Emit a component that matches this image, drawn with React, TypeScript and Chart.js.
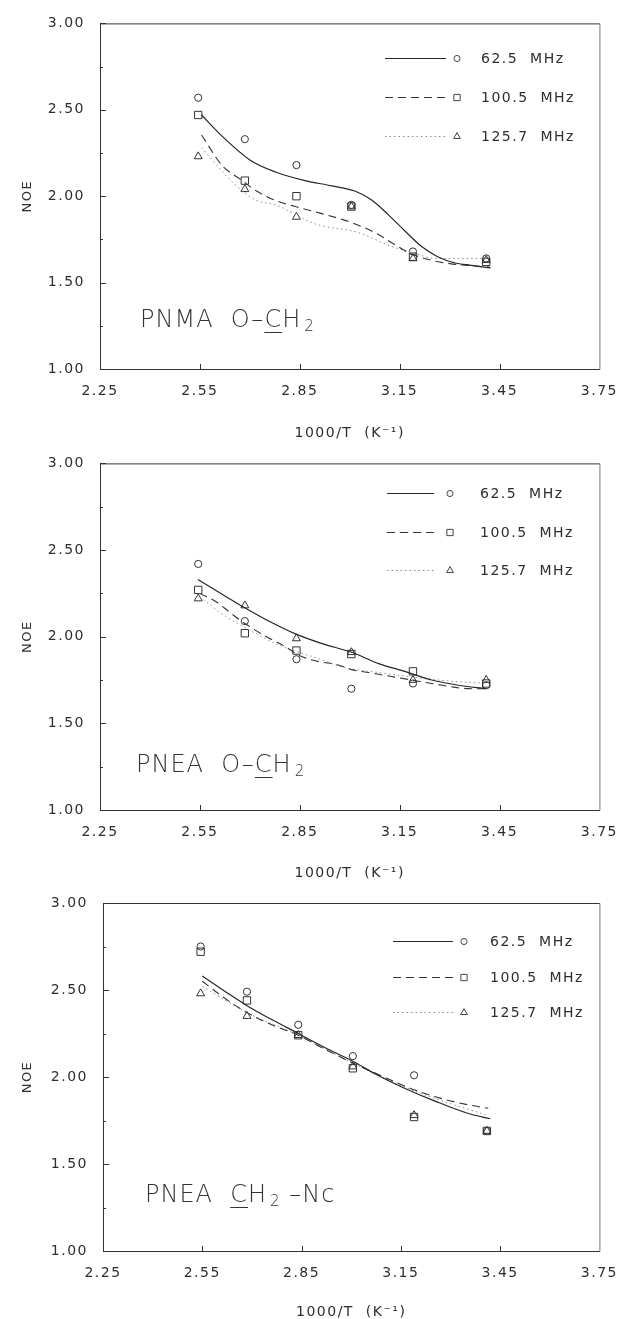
import React, { useEffect, useRef } from 'react';
import { Chart, registerables } from 'chart.js';

Chart.register(...registerables);

// ---------------- data ----------------
const tempX = [2.545, 2.685, 2.84, 3.005, 3.19, 3.41];
const xTickValues = [2.25, 2.55, 2.85, 3.15, 3.45, 3.75];
const yTickValues = [1.0, 1.5, 2.0, 2.5, 3.0];
const yMinorTicks = [1.25, 1.75, 2.25, 2.75];
const seriesLabels = ['62.5  MHz', '100.5  MHz', '125.7  MHz'];
const xTitle = '1000/T  (K\u207B\u00B9)';
const yTitle = 'NOE';

// Panel 1: PNMA O-CH2
const p1Noe625 = [2.57, 2.33, 2.18, 1.95, 1.68, 1.64];
const p1Noe1005 = [2.47, 2.09, 2.0, 1.94, 1.65, 1.62];
const p1Noe1257 = [2.23, 2.04, 1.88, 1.94, 1.64, 1.63];
const p1Fit625X = [2.555, 2.618, 2.7, 2.777, 2.866, 2.946, 3.015, 3.065, 3.115, 3.165, 3.215, 3.264, 3.314, 3.364, 3.423];
const p1Fit625Y = [2.47, 2.345, 2.21, 2.14, 2.09, 2.06, 2.03, 1.98, 1.895, 1.8, 1.71, 1.65, 1.615, 1.6, 1.585];
const p1Fit1005X = [2.555, 2.618, 2.67, 2.72, 2.777, 2.837, 2.896, 2.986, 3.035, 3.085, 3.135, 3.185, 3.244, 3.3, 3.42];
const p1Fit1005Y = [2.354, 2.175, 2.1, 2.03, 1.976, 1.94, 1.91, 1.86, 1.825, 1.78, 1.72, 1.666, 1.63, 1.61, 1.59];
const p1Fit1257X = [2.555, 2.654, 2.72, 2.777, 2.896, 3.025, 3.125, 3.195, 3.255, 3.33, 3.42];
const p1Fit1257Y = [2.28, 2.07, 1.976, 1.95, 1.84, 1.79, 1.71, 1.67, 1.64, 1.64, 1.64];

// Panel 2: PNEA O-CH2
const p2Noe625 = [2.42, 2.09, 1.87, 1.7, 1.73, 1.72];
const p2Noe1005 = [2.27, 2.02, 1.92, 1.9, 1.8, 1.73];
const p2Noe1257 = [2.22, 2.18, 1.99, 1.91, 1.75, 1.75];
const p2Fit625X = [2.544, 2.618, 2.682, 2.767, 2.837, 2.917, 3.006, 3.087, 3.166, 3.246, 3.326, 3.41];
const p2Fit625Y = [2.33, 2.244, 2.17, 2.08, 2.016, 1.96, 1.91, 1.845, 1.8, 1.75, 1.72, 1.7];
const p2Fit1005X = [2.55, 2.6, 2.64, 2.69, 2.75, 2.8, 2.85, 2.91, 2.96, 3.006, 3.066, 3.126, 3.186, 3.246, 3.365, 3.41];
const p2Fit1005Y = [2.25, 2.2, 2.14, 2.07, 2.0, 1.95, 1.89, 1.855, 1.84, 1.81, 1.79, 1.77, 1.75, 1.73, 1.7, 1.7];
const p2Fit1257X = [2.55, 2.618, 2.707, 2.777, 2.926, 2.966, 3.1, 3.265, 3.41];
const p2Fit1257Y = [2.23, 2.13, 2.03, 1.96, 1.86, 1.83, 1.79, 1.75, 1.73];

// Panel 3: PNEA CH2-Nc
const p3Noe625 = [2.75, 2.49, 2.3, 2.12, 2.01, 1.69];
const p3Noe1005 = [2.72, 2.44, 2.24, 2.05, 1.77, 1.69];
const p3Noe1257 = [2.48, 2.35, 2.24, 2.06, 1.78, 1.69];
const p3Fit625X = [2.55, 2.62, 2.685, 2.76, 2.84, 2.92, 3.005, 3.08, 3.156, 3.255, 3.354, 3.42];
const p3Fit625Y = [2.58, 2.49, 2.41, 2.33, 2.25, 2.17, 2.09, 2.01, 1.94, 1.86, 1.79, 1.76];
const p3Fit1005X = [2.55, 2.62, 2.685, 2.76, 2.84, 2.92, 3.005, 3.076, 3.185, 3.285, 3.354, 3.414];
const p3Fit1005Y = [2.55, 2.45, 2.37, 2.3, 2.24, 2.16, 2.08, 2.02, 1.93, 1.87, 1.84, 1.82];
const p3Fit1257X = [2.55, 2.685, 2.84, 3.005, 3.19, 3.41];
const p3Fit1257Y = [2.52, 2.37, 2.24, 2.08, 1.92, 1.78];

// ---------------- styles ----------------
const FONT = '"DejaVu Sans", Verdana, sans-serif';
const INK = '#2e2e2e';
const seriesStyles = [
  { color: '#262626', dash: [] as number[], width: 1.2, marker: 'circle', r: 3.6 },
  { color: '#333333', dash: [8, 5], width: 1.1, marker: 'rect', r: 5.2 },
  { color: '#8c8c8c', dash: [1.5, 3], width: 1, marker: 'triangle', r: 4.6 },
];

const pts = (xs: number[], ys: number[]) => xs.map((x, i) => ({ x, y: ys[i] }));

function drawMarker(ctx: CanvasRenderingContext2D, kind: string, x: number, y: number, r: number) {
  ctx.beginPath();
  if (kind === 'circle') {
    ctx.arc(x, y, r, 0, Math.PI * 2);
  } else if (kind === 'rect') {
    const s = r * Math.SQRT1_2;
    ctx.rect(x - s, y - s, 2 * s, 2 * s);
  } else {
    const h = r;
    ctx.moveTo(x, y - h);
    ctx.lineTo(x + h * 0.866, y + h * 0.5);
    ctx.lineTo(x - h * 0.866, y + h * 0.5);
    ctx.closePath();
  }
  ctx.stroke();
}

const decorPlugin = {
  id: 'decor',
  beforeDraw(chart: any) {
    (chart.ctx as any).letterSpacing = '1.5px';
  },
  afterDraw(chart: any, _args: any, opts: any) {
    const { ctx, chartArea: a, scales } = chart;
    const x = scales.x;
    const y = scales.y;
    ctx.save();
    (ctx as any).letterSpacing = '1.5px';
    ctx.lineWidth = 1;
    ctx.strokeStyle = '#333';
    ctx.setLineDash([]);
    // frame
    ctx.beginPath();
    ctx.moveTo(a.left + 0.5, a.top + 0.5);
    ctx.lineTo(a.left + 0.5, a.bottom + 0.5);
    ctx.lineTo(a.right + 0.5, a.bottom + 0.5);
    ctx.moveTo(a.left + 0.5, a.top + 0.5);
    ctx.lineTo(a.right + 0.5, a.top + 0.5);
    ctx.stroke();
    ctx.strokeStyle = '#777';
    ctx.beginPath();
    ctx.moveTo(a.right + 0.5, a.top + 0.5);
    ctx.lineTo(a.right + 0.5, a.bottom + 0.5);
    ctx.stroke();
    ctx.strokeStyle = '#333';
    // inward ticks
    ctx.beginPath();
    yTickValues.forEach((v) => {
      const py = Math.round(y.getPixelForValue(v)) + 0.5;
      ctx.moveTo(a.left, py);
      ctx.lineTo(a.left + 6, py);
    });
    yMinorTicks.forEach((v) => {
      const py = Math.round(y.getPixelForValue(v)) + 0.5;
      ctx.moveTo(a.left, py);
      ctx.lineTo(a.left + 3, py);
    });
    xTickValues.slice(1, -1).forEach((v) => {
      const px = Math.round(x.getPixelForValue(v)) + 0.5;
      ctx.moveTo(px, a.bottom);
      ctx.lineTo(px, a.bottom - 5);
    });
    ctx.stroke();
    // legend
    const lg = opts.legend;
    if (lg) {
      seriesLabels.forEach((label, i) => {
        const st = seriesStyles[i];
        const ry = lg.rows[i] + 0.5;
        ctx.strokeStyle = st.color;
        ctx.lineWidth = st.width;
        ctx.setLineDash(st.dash);
        ctx.beginPath();
        ctx.moveTo(lg.lineX1, ry);
        ctx.lineTo(lg.lineX2, ry);
        ctx.stroke();
        ctx.setLineDash([]);
        ctx.lineWidth = 1;
        ctx.strokeStyle = '#444';
        drawMarker(ctx, st.marker, lg.markerX, ry, st.r * 0.85);
        ctx.fillStyle = INK;
        ctx.font = `14px ${FONT}`;
        ctx.textAlign = 'left';
        ctx.textBaseline = 'middle';
        ctx.fillText(label, lg.textX, ry + 1);
      });
    }
    ctx.restore();
  },
};

type PanelSpec = {
  top: number;
  height: number;
  area: { left: number; right: number; top: number; bottom: number };
  titleY: number;
  nameX: number;
  noe: number[][];
  fits: { x: number[]; y: number[] }[];
  legend: { lineX1: number; lineX2: number; markerX: number; textX: number; rows: number[] };
};

const panels: PanelSpec[] = [
  {
    top: 0,
    height: 450,
    area: { left: 100, right: 603, top: 16, bottom: 369 },
    titleY: 433,
    nameX: 28,
    noe: [p1Noe625, p1Noe1005, p1Noe1257],
    fits: [
      { x: p1Fit625X, y: p1Fit625Y },
      { x: p1Fit1005X, y: p1Fit1005Y },
      { x: p1Fit1257X, y: p1Fit1257Y },
    ],
    legend: { lineX1: 385, lineX2: 446, markerX: 457, textX: 481, rows: [58, 97, 136] },
  },
  {
    top: 440,
    height: 450,
    area: { left: 100, right: 602, top: 459, bottom: 810 },
    titleY: 873,
    nameX: 28,
    noe: [p2Noe625, p2Noe1005, p2Noe1257],
    fits: [
      { x: p2Fit625X, y: p2Fit625Y },
      { x: p2Fit1005X, y: p2Fit1005Y },
      { x: p2Fit1257X, y: p2Fit1257Y },
    ],
    legend: { lineX1: 387, lineX2: 434, markerX: 450, textX: 480, rows: [493, 532, 570] },
  },
  {
    top: 875,
    height: 444,
    area: { left: 103, right: 606, top: 903, bottom: 1251 },
    titleY: 1312,
    nameX: 28,
    noe: [p3Noe625, p3Noe1005, p3Noe1257],
    fits: [
      { x: p3Fit625X, y: p3Fit625Y },
      { x: p3Fit1005X, y: p3Fit1005Y },
      { x: p3Fit1257X, y: p3Fit1257Y },
    ],
    legend: { lineX1: 393, lineX2: 453, markerX: 464, textX: 490, rows: [941, 977, 1012] },
  },
];

function Panel({ spec }: { spec: PanelSpec }) {
  const ref = useRef<HTMLCanvasElement | null>(null);
  useEffect(() => {
    if (!ref.current) return;
    const { top, height, area, titleY, nameX } = spec;
    const titleLH = 14;
    const nameLH = 13;
    const scaleBottom = titleY + titleLH / 2;
    const xAxisH = scaleBottom - area.bottom;
    const padBottom = top + height - scaleBottom;
    const padLeft = nameX - nameLH / 2;
    const yAxisW = area.left - padLeft;

    const datasets: any[] = [];
    spec.fits.forEach((f, i) => {
      const st = seriesStyles[i];
      datasets.push({
        label: seriesLabels[i] + ' fit',
        data: pts(f.x, f.y),
        showLine: true,
        borderColor: st.color,
        borderWidth: st.width,
        borderDash: st.dash,
        pointRadius: 0,
        cubicInterpolationMode: 'monotone',
        fill: false,
      });
    });
    spec.noe.forEach((vals, i) => {
      const st = seriesStyles[i];
      datasets.push({
        label: seriesLabels[i],
        data: pts(tempX, vals),
        showLine: false,
        pointStyle: st.marker,
        pointRadius: st.r,
        pointBorderWidth: 1,
        pointBorderColor: '#333',
        pointBackgroundColor: 'rgba(0,0,0,0)',
        borderColor: '#333',
        backgroundColor: 'rgba(0,0,0,0)',
      });
    });

    const legendLocal = {
      ...spec.legend,
      rows: spec.legend.rows.map((r) => r - top),
    };

    const chart = new Chart(ref.current, {
      type: 'scatter',
      data: { datasets },
      plugins: [decorPlugin],
      options: {
        animation: false,
        responsive: false,
        maintainAspectRatio: false,
        events: [],
        layout: {
          padding: {
            left: padLeft,
            right: 629 - area.right,
            top: area.top - top,
            bottom: padBottom,
          },
        },
        plugins: {
          legend: { display: false },
          tooltip: { enabled: false },
          decor: { legend: legendLocal },
        } as any,
        scales: {
          x: {
            type: 'linear',
            min: 2.25,
            max: 3.75,
            afterBuildTicks: (s: any) => {
              s.ticks = xTickValues.map((v) => ({ value: v }));
            },
            afterFit: (s: any) => {
              s.height = xAxisH;
            },
            grid: { display: false, drawTicks: false },
            border: { display: false },
            ticks: {
              padding: 14,
              autoSkip: false,
              maxRotation: 0,
              color: INK,
              font: { family: FONT, size: 14 },
              callback: (v: any) => Number(v).toFixed(2),
            },
            title: {
              display: true,
              text: xTitle,
              color: INK,
              padding: 0,
              font: { family: FONT, size: 14, lineHeight: titleLH / 14 },
            },
          },
          y: {
            type: 'linear',
            min: 1,
            max: 3,
            afterBuildTicks: (s: any) => {
              s.ticks = yTickValues.map((v) => ({ value: v }));
            },
            afterFit: (s: any) => {
              s.width = yAxisW;
            },
            grid: { display: false, drawTicks: false },
            border: { display: false },
            ticks: {
              padding: 15,
              color: INK,
              font: { family: FONT, size: 14 },
              callback: (v: any) => Number(v).toFixed(2),
            },
            title: {
              display: true,
              text: yTitle,
              color: INK,
              padding: 0,
              font: { family: FONT, size: 13, lineHeight: 1 },
            },
          },
        },
      } as any,
    });
    return () => chart.destroy();
  }, [spec]);

  return (
    <canvas
      ref={ref}
      width={629}
      height={spec.height}
      style={{ position: 'absolute', left: 0, top: spec.top, width: 629, height: spec.height, display: 'block' }}
    />
  );
}

const annStyle: React.CSSProperties = {
  position: 'absolute',
  fontFamily: FONT,
  fontSize: 24,
  fontWeight: 200,
  lineHeight: 1,
  letterSpacing: '1px',
  color: '#333',
  whiteSpace: 'pre',
};
const subStyle: React.CSSProperties = { fontSize: 15, verticalAlign: '-4px', lineHeight: 1, marginLeft: 3 };
const uStyle: React.CSSProperties = { textDecoration: 'underline', textUnderlineOffset: '5px', textDecorationThickness: '1px' };

export default function App() {
  return (
    <div style={{ position: 'absolute', left: 0, top: 0, width: 629, height: 1319, background: '#fff', overflow: 'hidden' }}>
      {panels.map((p, i) => (
        <Panel key={i} spec={p} />
      ))}
      <div style={{ ...annStyle, left: 140, top: 307 }}>
        {'PNMA  O\u2013'}
        <span style={uStyle}>C</span>H<span style={subStyle}>2</span>
      </div>
      <div style={{ ...annStyle, left: 136, top: 752 }}>
        {'PNEA  O\u2013'}
        <span style={uStyle}>C</span>H<span style={subStyle}>2</span>
      </div>
      <div style={{ ...annStyle, left: 145, top: 1182 }}>
        {'PNEA  '}
        <span style={uStyle}>C</span>H<span style={subStyle}>2</span>
        {' \u2013Nc'}
      </div>
    </div>
  );
}
